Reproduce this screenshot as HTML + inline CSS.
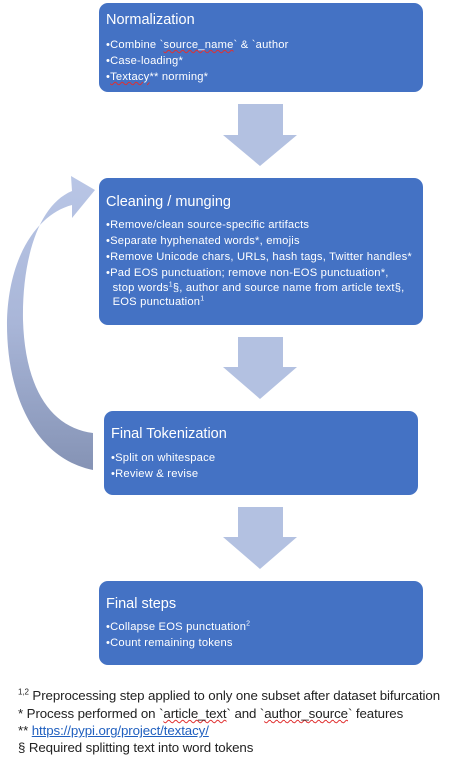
<!DOCTYPE html>
<html><head><meta charset="utf-8"><style>
body{margin:0;width:451px;height:758px;background:#fff;position:relative;overflow:hidden;font-family:"Liberation Sans",sans-serif}
.box{position:absolute;background:#4472c4;border-radius:9px;color:#fff;box-sizing:border-box;padding-left:7px}
.t{font-size:14.5px;margin-top:9px;margin-bottom:7px}
.b{font-size:11.2px;line-height:16px;white-space:nowrap;letter-spacing:0.2px}
.b sup{font-size:7px;line-height:0}
.w{text-decoration:underline wavy #e03030;text-decoration-thickness:1px}
.fn{position:absolute;left:18px;font-size:13.3px;color:#222;white-space:nowrap;letter-spacing:-0.1px}
.fn sup{font-size:8px;line-height:0}
</style></head><body>
<svg width="451" height="758" style="position:absolute;left:0;top:0">
<defs><linearGradient id="g" x1="0" y1="0" x2="0" y2="1"><stop offset="0" stop-color="#b9c6e6"/><stop offset="0.5" stop-color="#a9b6d8"/><stop offset="1" stop-color="#8593b5"/></linearGradient></defs>
<polygon fill="#b3c1e1" points="238,104 283,104 283,135 297,135 260,166 223,135 238,135"/>
<polygon fill="#b3c1e1" points="238,337 283,337 283,367 297,367 260,399 223,367 238,367"/>
<polygon fill="#b3c1e1" points="238,507 283,507 283,537 297,537 260,569 223,537 238,537"/>
<path fill="url(#g)" d="M93,470 C35,458 6,395 7,320 C9,255 38,214 72,205 L72,218 L95,190 L71,176 L72,191 C38,205 22,260 23,320 C25,390 52,428 93,433 Z"/>
</svg>
<div class="box" style="left:99px;top:3px;width:324px;height:89px">
<div class="t" style="margin-top:9px;margin-bottom:9px">Normalization</div>
<div class="b">•Combine `<span class="w">source_name</span>` &amp; `author<br>•Case-loading*<br>•<span class="w">Textacy</span>** norming*</div></div>
<div class="box" style="left:99px;top:178px;width:324px;height:147px">
<div class="t" style="margin-top:16px;margin-bottom:7px">Cleaning / munging</div>
<div class="b">•Remove/clean source-specific artifacts<br>•Separate hyphenated words*, emojis<br>•Remove Unicode chars, URLs, hash tags, Twitter handles*<br>•Pad EOS punctuation; remove non-EOS punctuation*,<br><span style="line-height:14px;display:inline-block">&nbsp;&nbsp;stop words<sup>1</sup>§, author and source name from article text§,<br>&nbsp;&nbsp;EOS punctuation<sup>1</sup></span></div></div>
<div class="box" style="left:104px;top:411px;width:314px;height:84px">
<div class="t" style="margin-top:15px;margin-bottom:8px">Final Tokenization</div>
<div class="b">•Split on whitespace<br>•Review &amp; revise</div></div>
<div class="box" style="left:99px;top:581px;width:324px;height:84px">
<div class="t" style="margin-top:15px;margin-bottom:7px">Final steps</div>
<div class="b">•Collapse EOS punctuation<sup>2</sup><br>•Count remaining tokens</div></div>
<div class="fn" style="top:688px"><sup>1,2</sup> Preprocessing step applied to only one subset after dataset bifurcation</div>
<div class="fn" style="top:706px">* Process performed on `<span class="w">article_text</span>` and `<span class="w">author_source</span>` features</div>
<div class="fn" style="top:723px">** <span style="color:#1f5fbf;text-decoration:underline">https://pypi.org/project/textacy/</span></div>
<div class="fn" style="top:740px">§ Required splitting text into word tokens</div>
</body></html>
